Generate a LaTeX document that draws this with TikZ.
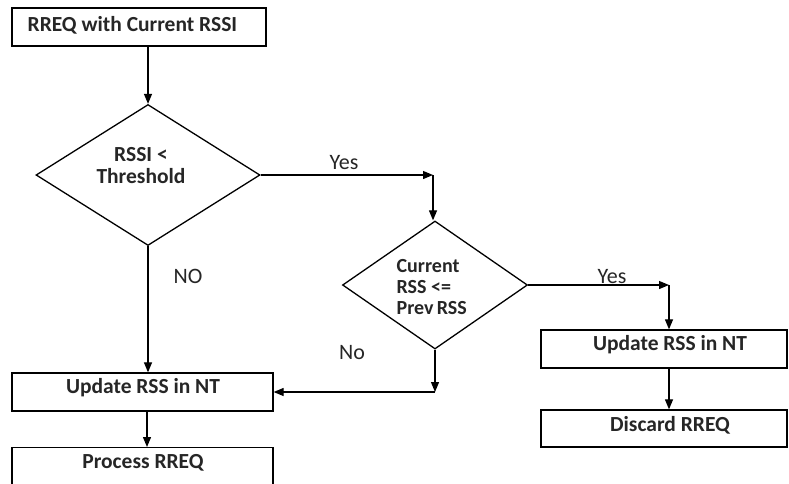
\documentclass[tikz,border=0pt]{standalone}
\usepackage{fontspec}
\setmainfont{Carlito}
\usetikzlibrary{shapes.geometric,arrows.meta}
\begin{document}
\begin{tikzpicture}[x=1pt,y=-1pt,
  line width=1.3pt,
  every node/.style={font=\fontsize{22}{22}\selectfont, text=black!85},
  box/.style={draw, rectangle, inner sep=0pt, font=\fontsize{22}{22}\selectfont\bfseries},
  dia/.style={draw, diamond, inner sep=0pt},
  dtext/.style={font=\fontsize{21.5}{22}\selectfont\bfseries, align=center, inner sep=0pt},
  lbl/.style={font=\fontsize{22}{22}\selectfont, inner sep=0pt},
  blbl/.style={font=\fontsize{21.5}{22}\selectfont\bfseries, inner sep=0pt},
  arr/.style={-{Triangle[length=10pt,width=8pt]}, line width=1.2pt}
]
\useasboundingbox (0,0) rectangle (789,483);
\fill[white] (0,0) rectangle (789,483);

% boxes
\node[box, minimum width=254pt, minimum height=38pt] (t) at (139,27) {};
\node[blbl, anchor=west] (tt) at (27,25) {RREQ with Current RSSI};

\node[dia, minimum width=224pt, minimum height=141pt] (d1) at (148,175) {};
\node[dtext] (d1t) at (141,166) {RSSI <\\Threshold};

\node[dia, minimum width=185pt, minimum height=128pt] (d2) at (435,285) {};
\node[dtext, font=\fontsize{20}{21}\selectfont\bfseries, align=left, anchor=west] (d2t) at (396,287) {Current\\RSS <=\\Prev\,RSS};

\node[box, minimum width=261pt, minimum height=38pt] (u1) at (142.5,392) {};
\node[blbl] (u1t) at (143,388) {Update RSS in NT};
\node[box, minimum width=261pt, minimum height=44pt, anchor=north] (p) at (142.5,447) {};
\node[blbl] (pt) at (143,463) {Process RREQ};

\node[box, minimum width=246pt, minimum height=38pt] (u2) at (664,349) {};
\node[blbl] (u2t) at (670,345) {Update RSS in NT};
\node[box, minimum width=246pt, minimum height=37pt] (dis) at (664,428.5) {};
\node[blbl] (dist) at (670,425) {Discard RREQ};

% labels
\node[lbl] (y1) at (344,163) {Yes};
\node[lbl] (y2) at (612,277) {Yes};
\node[lbl] (n1) at (188,276) {NO};
\node[lbl] (n2) at (352,353) {No};

% coordinates
\coordinate (c1) at (433,175);
\coordinate (c2) at (669,285);
\coordinate (c3) at (435,392);

% connectors
\draw[arr] (t.south -| d1.north) -- (d1.north);
\draw[arr] (d1.east) -- (c1);
\draw[arr] (c1) -- (c1 |- d2.north);
\draw[arr] (d2.east) -- (c2);
\draw[arr] (c2) -- (c2 |- u2.north);
\draw[arr] (c2 |- u2.south) -- (c2 |- dis.north);
\draw[arr] (d1.south) -- (d1.south |- u1.north);
\draw[arr] (d2.south) -- (c3);
\draw[arr] (c3) -- (u1.east);
\draw[arr] (147,411) coordinate (u1s) -- (u1s |- p.north);
\end{tikzpicture}
\end{document}
